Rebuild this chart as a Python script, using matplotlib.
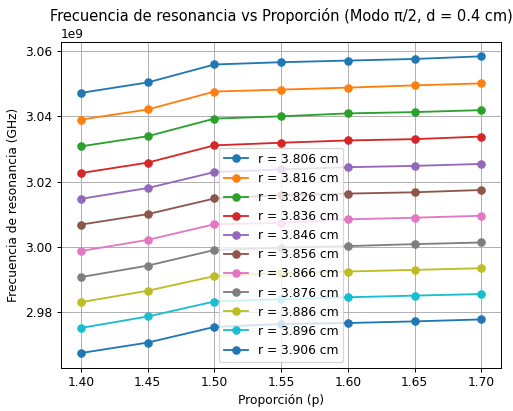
import matplotlib
matplotlib.use("Agg")
import matplotlib.pyplot as plt

# proporcion p
p = [1.40, 1.45, 1.50, 1.55, 1.60, 1.65, 1.70]
radios = [3.806, 3.816, 3.826, 3.836, 3.846, 3.856, 3.866, 3.876, 3.886, 3.896, 3.906]

# frecuencias en GHz (se escalan a Hz al dibujar)
f_3806 = [3.0472, 3.0504, 3.0559, 3.0566, 3.0571, 3.0576, 3.0584]
f_3816 = [3.0390, 3.0421, 3.0476, 3.0482, 3.0488, 3.0495, 3.0501]
f_3826 = [3.0308, 3.0339, 3.0393, 3.0400, 3.0409, 3.0413, 3.0419]
f_3836 = [3.0226, 3.0258, 3.0311, 3.0319, 3.0326, 3.0330, 3.0338]
f_3846 = [3.0147, 3.0180, 3.0229, 3.0237, 3.0244, 3.0248, 3.0254]
f_3856 = [3.0068, 3.0100, 3.0148, 3.0158, 3.0163, 3.0167, 3.0174]
f_3866 = [2.9987, 3.0021, 3.0069, 3.0073, 3.0084, 3.0089, 3.0095]
f_3876 = [2.9907, 2.9942, 2.9990, 2.9997, 3.0002, 3.0008, 3.0013]
f_3886 = [2.9830, 2.9865, 2.9910, 2.9919, 2.9924, 2.9929, 2.9934]
f_3896 = [2.9751, 2.9786, 2.9832, 2.9839, 2.9845, 2.9850, 2.9855]
f_3906 = [2.9674, 2.9706, 2.9754, 2.9763, 2.9766, 2.9771, 2.9777]

series = [f_3806, f_3816, f_3826, f_3836, f_3846, f_3856,
          f_3866, f_3876, f_3886, f_3896, f_3906]

# la imagen original parece reducida (~0.87), por eso dpi 88
dpi = 88
fig, ax = plt.subplots(figsize=(513 / dpi, 411 / dpi), dpi=dpi)
fig.subplots_adjust(left=0.119, right=0.977, top=0.899, bottom=0.105)

for r, f in zip(radios, series):
    ax.plot(p, [v * 1e9 for v in f], marker="o", label=f"r = {r:.3f} cm")

ax.set_title("Frecuencia de resonancia vs Proporción (Modo π/2, d = 0.4 cm)")
ax.set_xlabel("Proporción (p)")
ax.set_ylabel("Frecuencia de resonancia (GHz)")
ax.grid(True)
ax.legend(loc="lower center")

fig.savefig("out.png", dpi=dpi)
